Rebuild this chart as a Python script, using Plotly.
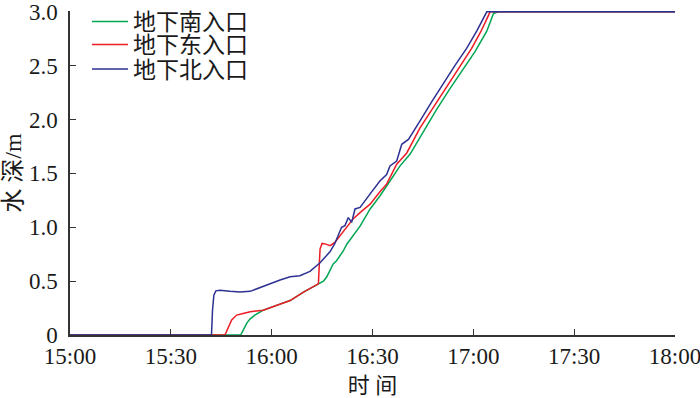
import plotly.graph_objects as go

# time in minutes after 15:00, depth in m
south_t = [0, 50.8, 52.6, 53.6, 55.0, 57.5, 61.6, 65.5, 69.6, 73.9, 75.4, 76.4, 78.3, 79.3, 81.3, 82.3,
           84.3, 86.3, 89.3, 92.2, 95.2, 98.2, 101.2, 104.1, 105.1, 109.0, 113.1, 117.0, 120.5, 124.0,
           126.0, 127.4, 180]
south_d = [0, 0, 0.11, 0.15, 0.185, 0.23, 0.277, 0.32, 0.40, 0.47, 0.50, 0.54, 0.66, 0.69, 0.78, 0.84,
           0.93, 1.01, 1.17, 1.29, 1.43, 1.57, 1.68, 1.83, 1.89, 2.09, 2.29, 2.47, 2.63, 2.82,
           2.985, 3.0, 3.0]

east_t = [0, 46.1, 48.1, 49.6, 51.5, 53.6, 57.5, 61.6, 65.5, 69.6, 73.9, 74.4, 75.0, 75.9, 77.4, 78.8,
          80.3, 81.3, 84.3, 86.8, 89.3, 92.2, 94.2, 97.2, 100.2, 104.1, 108.0, 112.1, 116.0, 119.5,
          122.3, 125.0, 180]
east_d = [0, 0, 0.14, 0.185, 0.20, 0.215, 0.23, 0.277, 0.32, 0.40, 0.475, 0.80, 0.85, 0.846, 0.83, 0.86,
          0.92, 0.955, 1.08, 1.15, 1.215, 1.33, 1.40, 1.585, 1.69, 1.92, 2.11, 2.31, 2.49, 2.66,
          2.82, 3.0, 3.0]

north_t = [0, 42.1, 42.4, 42.8, 43.4, 44.6, 47.6, 50.6, 53.6, 56.5, 59.5, 62.5, 65.5, 68.4, 71.4, 74.4,
           77.4, 78.8, 80.8, 81.8, 82.8, 83.8, 84.8, 86.3, 89.3, 92.2, 94.2, 95.2, 97.2, 98.7, 100.7,
           102.1, 104.1, 107.5, 111.1, 114.5, 118.0, 121.0, 124.0, 180]
north_d = [0, 0, 0.23, 0.37, 0.41, 0.415, 0.405, 0.40, 0.405, 0.44, 0.48, 0.51, 0.54, 0.55, 0.59, 0.67,
           0.775, 0.85, 1.0, 1.015, 1.09, 1.046, 1.17, 1.185, 1.31, 1.43, 1.49, 1.57, 1.615, 1.77, 1.815,
           1.89, 1.985, 2.16, 2.34, 2.50, 2.66, 2.82, 3.0, 3.0]

names = ["地下南入口", "地下东入口", "地下北入口"]
colors = ["#00a651", "#ed1c24", "#2e3192"]

x_tickvals = [0, 30, 60, 90, 120, 150, 180]
x_ticktext = ["15:00", "15:30", "16:00", "16:30", "17:00", "17:30", "18:00"]
y_tickvals = [0, 0.5, 1.0, 1.5, 2.0, 2.5, 3.0]
y_ticktext = ["0", "0.5", "1.0", "1.5", "2.0", "2.5", "3.0"]

FONT = "'Liberation Serif', 'Times New Roman', 'Noto Sans CJK SC', serif"
TXT = "#1a1a1a"
W, H = 700, 398
ML, MB = 70, 63
PLOT_R, PLOT_T = 675, 10
FW, FH = W - ML, H - MB  # frame inside margins (r=0, t=0)

fig = go.Figure()
legend_ids = ["legend", "legend2", "legend3"]
series = [(south_t, south_d), (east_t, east_d), (north_t, north_d)]
for (t, d), n, c, lg in zip(series, names, colors, legend_ids):
    fig.add_trace(go.Scatter(x=t, y=d, mode="lines", name=n, legend=lg,
                             line=dict(color=c, width=1.5)))

leg_common = dict(xanchor="left", yanchor="middle", bgcolor="rgba(0,0,0,0)",
                  borderwidth=0, itemwidth=36,
                  font=dict(family=FONT, size=23, color=TXT))
leg_x = (87 - ML) / FW
fig.update_layout(
    legend=dict(x=leg_x, y=(FH - 21) / FH, **leg_common),
    legend2=dict(x=leg_x, y=(FH - 44.5) / FH, **leg_common),
    legend3=dict(x=leg_x, y=(FH - 69) / FH, **leg_common),
)

fig.update_layout(
    width=W, height=H,
    margin=dict(l=ML, r=0, t=0, b=MB),
    plot_bgcolor="white", paper_bgcolor="white",
    font=dict(family=FONT, size=22, color=TXT),
    showlegend=True,
    xaxis=dict(range=[0, 180], tickvals=x_tickvals, ticktext=x_ticktext,
               domain=[0, (PLOT_R - ML) / FW],
               automargin=False, ticklabeloverflow="allow",
               showgrid=False, zeroline=False, showline=True, linecolor="#333333", linewidth=1.5,
               ticks="inside", ticklen=6, tickwidth=1.2, tickcolor="#333333",
               title=dict(text="时 间", font=dict(size=22), standoff=10),
               tickfont=dict(size=23)),
    yaxis=dict(range=[0, 3.008], tickvals=y_tickvals, ticktext=y_ticktext,
               domain=[0, (FH - PLOT_T) / FH],
               automargin=False, ticklabeloverflow="allow",
               showgrid=False, zeroline=False, showline=True, linecolor="#333333", linewidth=1.5,
               ticks="inside", ticklen=6, tickwidth=1.2, tickcolor="#333333",
               title=dict(text="水 深/m", font=dict(size=24), standoff=0),
               tickfont=dict(size=23), ticklabelstandoff=6),
)

fig.write_html("out.html", config={"displayModeBar": False},
               post_script="document.body.style.margin='0';document.body.style.overflow='hidden';")
